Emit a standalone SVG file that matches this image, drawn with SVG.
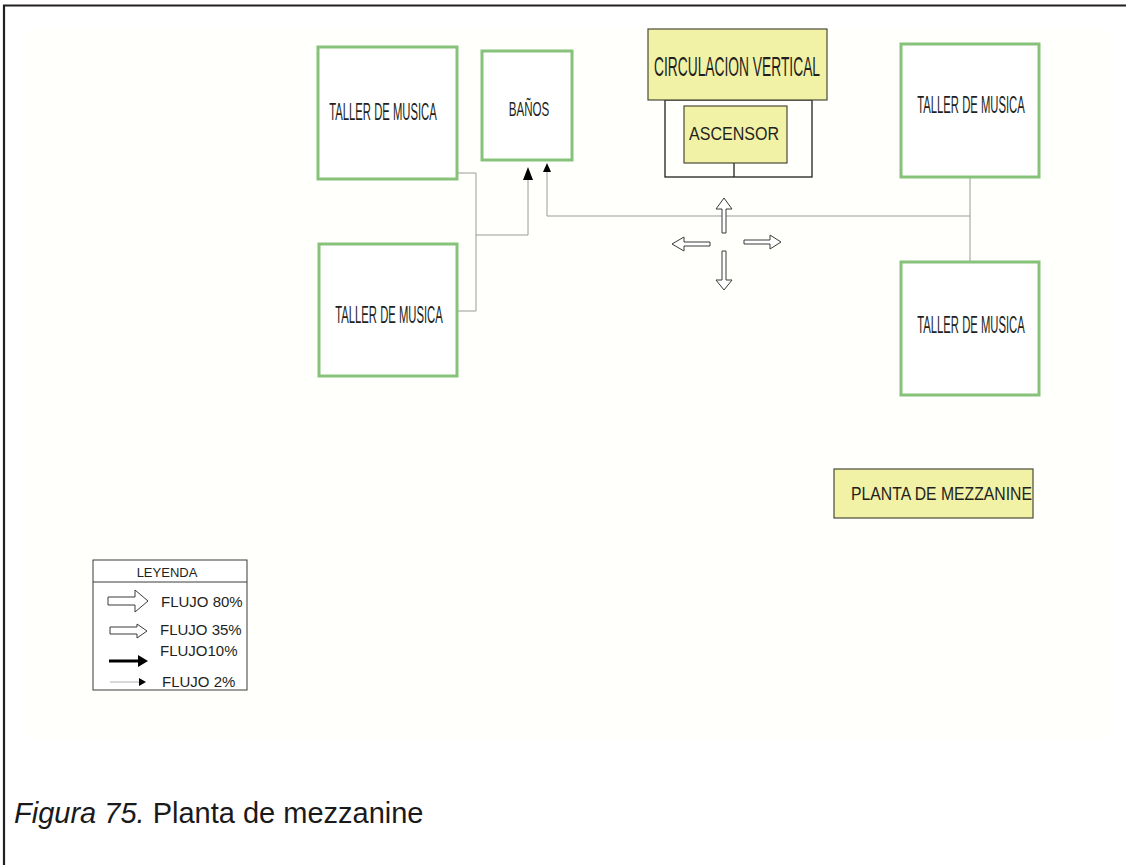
<svg xmlns="http://www.w3.org/2000/svg" width="1126" height="865" viewBox="0 0 1126 865">
  <defs>
    <style>
      .room { fill: #ffffff; stroke: #86c27a; stroke-width: 3; }
      .box-y { fill: #f2f2a6; stroke: #4a4a3a; stroke-width: 1.2; }
      .frame { fill: none; stroke: #231f20; stroke-width: 1.3; }
      .lbl { font-family: "Liberation Sans", Arial, sans-serif; fill: #231f20; }
      .cond { font-size: 23px; text-anchor: middle; }
      .leg { font-size: 15px; }
      .link { fill: none; stroke: #9a9a9a; stroke-width: 1; }
      .hollow { fill: #ffffff; stroke: #3a3a3a; stroke-width: 1; stroke-linejoin: miter; }
      .solid { fill: #000000; stroke: none; }
      .cap { font-family: "Liberation Sans", Arial, sans-serif; font-size: 29px; fill: #1a1a1a; }
    </style>
  </defs>

  <!-- page background and page rules -->
  <rect x="0" y="0" width="1126" height="865" fill="#ffffff"/>
  <rect x="27" y="29" width="1081" height="710" fill="#fffffb"/>
  <path d="M4 865 V5.5 H1126" fill="none" stroke="#231f20" stroke-width="2.2"/>

  <!-- connectors -->
  <g id="connectors">
    <path class="link" d="M457 173 H476 V311 H457"/>
    <path class="link" d="M476 235 H528 V180"/>
    <path class="link" d="M547 172 V216 H970"/>
    <path class="link" d="M970 177 V262"/>
    <polygon class="solid" points="528,167 523,180 533,180"/>
    <polygon class="solid" points="547,163 543,172 551,172"/>
    <!-- flow arrows around the vertical circulation -->
    <polygon class="hollow" points="722,233 722,209 716,209 724,198 732,209 726,209 726,233"/>
    <polygon class="hollow" points="722,251 722,280 716,280 724,290 732,280 726,280 726,251"/>
    <polygon class="hollow" points="710,242 684,242 684,237 672,244 684,251 684,246 710,246"/>
    <polygon class="hollow" points="744,240 770,240 770,235 781,242 770,249 770,244 744,244"/>
  </g>

  <!-- condensed room labels: horizontal scale 0.49 -->
  <g id="taller-1">
    <rect class="room" x="318" y="47" width="139" height="132"/>
    <text class="lbl cond" transform="translate(383 120) scale(0.49 1)">TALLER DE MUSICA</text>
  </g>

  <g id="banos">
    <rect class="room" x="482" y="51" width="90" height="109"/>
    <text class="lbl" font-size="20" text-anchor="middle" transform="translate(529 116) scale(0.58 1)">BAÑOS</text>
  </g>

  <g id="taller-2">
    <rect class="room" x="319" y="244" width="138" height="132"/>
    <text class="lbl cond" transform="translate(389 323) scale(0.49 1)">TALLER DE MUSICA</text>
  </g>

  <g id="taller-3">
    <rect class="room" x="901" y="44" width="138" height="133"/>
    <text class="lbl cond" transform="translate(971 113) scale(0.49 1)">TALLER DE MUSICA</text>
  </g>

  <g id="taller-4">
    <rect class="room" x="901" y="262" width="138" height="133"/>
    <text class="lbl cond" transform="translate(971 333) scale(0.49 1)">TALLER DE MUSICA</text>
  </g>

  <g id="circulacion-vertical">
    <rect class="frame" x="665" y="100" width="147" height="77"/>
    <line class="frame" x1="734" y1="163" x2="734" y2="177"/>
    <rect class="box-y" x="648" y="29" width="179" height="71"/>
    <text class="lbl" x="654" y="76" font-size="28" textLength="166" lengthAdjust="spacingAndGlyphs">CIRCULACION VERTICAL</text>
  </g>

  <g id="ascensor">
    <rect class="box-y" x="684" y="106" width="103" height="57"/>
    <text class="lbl" x="689" y="140" font-size="19" textLength="90" lengthAdjust="spacingAndGlyphs">ASCENSOR</text>
  </g>

  <g id="planta-mezzanine">
    <rect class="box-y" x="834" y="469" width="199" height="49"/>
    <text class="lbl" x="851" y="500" font-size="17.5" textLength="181" lengthAdjust="spacingAndGlyphs">PLANTA DE MEZZANINE</text>
  </g>

  <g id="leyenda">
    <rect x="93" y="560" width="154" height="130" fill="#ffffff" stroke="#3a3a3a" stroke-width="1"/>
    <line x1="93" y1="582" x2="247" y2="582" stroke="#3a3a3a" stroke-width="1"/>
    <text class="lbl" x="167" y="577" font-size="13" text-anchor="middle">LEYENDA</text>
    <polygon class="hollow" points="108,597 135,597 135,590 148,601 135,612 135,605 108,605"/>
    <text class="lbl leg" x="161" y="607">FLUJO 80%</text>
    <polygon class="hollow" points="110,627 137,627 137,624 147,631 137,638 137,634 110,634"/>
    <text class="lbl leg" x="160" y="635">FLUJO 35%</text>
    <line x1="109" y1="661" x2="139" y2="661" stroke="#000" stroke-width="3"/>
    <polygon class="solid" points="138,655 148,661 138,667"/>
    <text class="lbl leg" x="160" y="656">FLUJO10%</text>
    <line x1="110" y1="682" x2="140" y2="682" stroke="#b0b0b0" stroke-width="1"/>
    <polygon class="solid" points="139,678 146,682 139,686"/>
    <text class="lbl leg" x="162" y="687">FLUJO 2%</text>
  </g>

  <text class="cap" x="14" y="823"><tspan font-style="italic">Figura 75.</tspan> Planta de mezzanine</text>
</svg>
